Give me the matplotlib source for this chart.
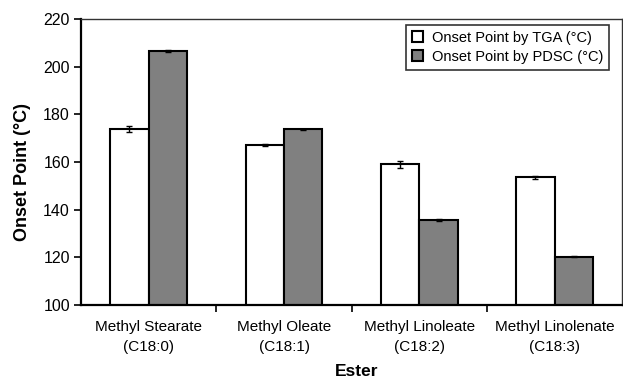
import numpy as np
import matplotlib

matplotlib.use("Agg")
import matplotlib.pyplot as plt

# --- Data ---------------------------------------------------------------------
esters = ["Methyl Stearate\n(C18:0)", "Methyl Oleate\n(C18:1)",
          "Methyl Linoleate\n(C18:2)", "Methyl Linolenate\n(C18:3)"]
tga = [174.0, 167.3, 159.0, 153.6]
tga_err = [1.2, 0.4, 1.4, 0.5]
pdsc = [206.6, 173.7, 135.7, 120.3]
pdsc_err = [0.6, 0.2, 0.3, 0.2]

plt.rcParams["font.family"] = ["Liberation Sans", "DejaVu Sans"]

fig = plt.figure(figsize=(6.23, 3.83), dpi=100)
ax = fig.add_axes([0.130, 0.2037, 0.869, 0.7463])

x = np.arange(len(esters))
w = 0.284
ekw = dict(elinewidth=1.0, capthick=1.0, ecolor="black")
ax.bar(x - w / 2, tga, w, yerr=tga_err, capsize=2, color="white",
       edgecolor="black", linewidth=1.5, error_kw=ekw,
       label="Onset Point by TGA (\u00b0C)", zorder=2)
ax.bar(x + w / 2, pdsc, w, yerr=pdsc_err, capsize=2, color="#808080",
       edgecolor="black", linewidth=1.5, error_kw=ekw,
       label="Onset Point by PDSC (\u00b0C)", zorder=2)

ax.set_xlim(-0.5, len(esters) - 0.5)
ax.set_ylim(100, 220)
ax.set_yticks(range(100, 221, 20))

ax.set_xticks(x)
ax.set_xticklabels(esters, fontsize=11, linespacing=1.55)
ax.tick_params(axis="x", which="major", length=0, pad=11)
ax.set_xticks(x[:-1] + 0.5, minor=True)
ax.tick_params(axis="x", which="minor", length=5, width=1.2, direction="out")
ax.tick_params(axis="y", length=5, width=1.2, direction="out", labelsize=11.5, pad=3)

for side in ["left", "bottom"]:
    ax.spines[side].set_linewidth(1.6)
for side in ["top", "right"]:
    ax.spines[side].set_linewidth(1.0)
    ax.spines[side].set_color("#333333")

ax.set_ylabel("Onset Point (\u00b0C)", fontsize=13, fontweight="bold")
ax.yaxis.set_label_coords(-0.092, 0.465)
ax.set_xlabel("Ester", fontsize=12.5, fontweight="bold")
ax.xaxis.set_label_coords(0.51, -0.205)

leg = ax.legend(loc="upper right", bbox_to_anchor=(0.975, 0.98), fontsize=10.5,
                frameon=True, fancybox=False, edgecolor="black",
                handlelength=0.75, handleheight=0.75, handletextpad=0.6,
                borderpad=0.4, labelspacing=0.35, borderaxespad=0)
leg.get_frame().set_linewidth(1.2)

fig.savefig("out.png", dpi=100)
plt.close(fig)
